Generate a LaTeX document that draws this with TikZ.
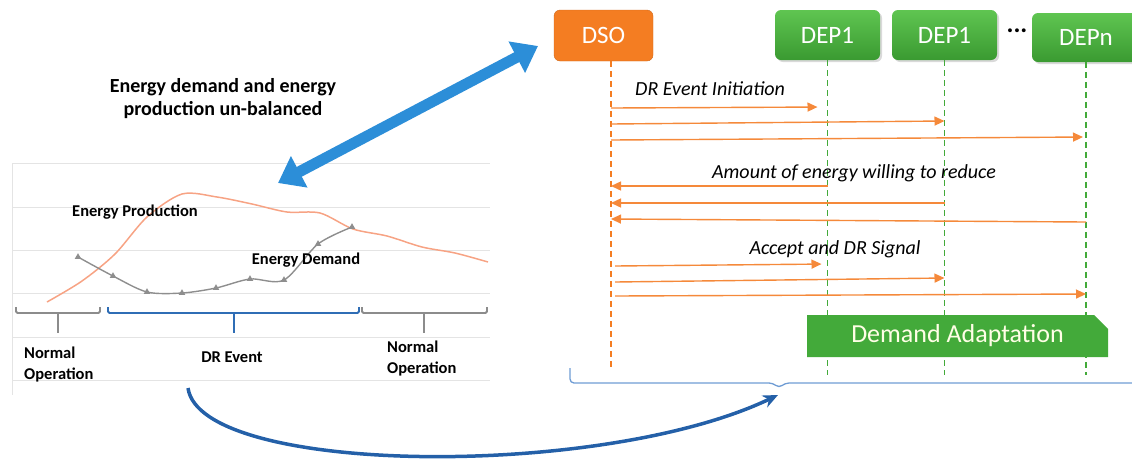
\documentclass[tikz,border=0pt]{standalone}
\usepackage{fontspec}
\setmainfont{Carlito}
\usetikzlibrary{arrows.meta,shapes.misc,plotmarks,calc,shadows}

\definecolor{dsoorange}{HTML}{F47D22}
\definecolor{deptop}{HTML}{5FC551}
\definecolor{depbottom}{HTML}{3A9A31}
\definecolor{adaptgreen}{HTML}{43AA3A}
\definecolor{msgorange}{HTML}{F5893A}
\definecolor{prodsalmon}{HTML}{F7A384}
\definecolor{demgray}{HTML}{8E8E8E}
\definecolor{gridgray}{HTML}{E4E4E4}
\definecolor{bigblue}{HTML}{2C8ED8}
\definecolor{curveblue}{HTML}{2460A8}
\definecolor{bracketblue}{HTML}{2F6DB5}
\definecolor{bracegray}{HTML}{8C8C8C}
\definecolor{braceblue}{HTML}{6F9CD4}

\tikzset{
	actor/.style={rounded corners=6pt, inner sep=0pt, text=white,
		font=\fontsize{25}{28}\selectfont},
	depbox/.style={actor, top color=deptop, bottom color=depbottom,
		drop shadow={opacity=0.3, shadow xshift=2pt, shadow yshift=-2pt}},
	msg/.style={draw=msgorange, line width=1.4pt, -{Triangle[length=10pt,width=9pt]}},
	lifeline/.style={dash pattern=on 6pt off 4pt, line width=1.1pt},
	msglabel/.style={font=\fontsize{20}{22}\selectfont\itshape, inner sep=0pt},
	chartlabel/.style={font=\fontsize{16.5}{21}\selectfont\bfseries, inner sep=0pt},
	bracket/.style={line width=1.8pt, rounded corners=1.5pt},
}

\begin{document}
\begin{tikzpicture}[x=1pt,y=-1pt]

\useasboundingbox (0,0) rectangle (1132,459);
\clip (0,0) rectangle (1132,459);

% Chart grid
\foreach \gy in {163,207,250,293,337,380}
{
	\draw[gridgray, line width=1pt] (12,\gy) -- (490,\gy);
}
\draw[gridgray, line width=1pt] (12,163) -- (12,395);

% Energy production curve
\draw[prodsalmon, line width=1.5pt] plot[smooth, tension=0.5] coordinates
	{(47,302) (82,281) (115,254) (147,217) (182,194) (217,197) (252,204)
	 (287,212) (320,213) (353,229) (387,236) (422,247) (455,253) (488,262)};

% Energy demand curve
\draw[demgray, line width=1.4pt] plot[smooth, tension=0.5, mark=triangle*,
	mark size=2.4pt, mark options={fill=demgray}] coordinates
	{(78,257) (113,276) (147,292) (182,293) (216,288) (250,279) (284,280)
	 (318,244) (352,227)};

\node[chartlabel] (prodLbl) at (135,212) {Energy Production};
\node[chartlabel] (demLbl) at (306,260) {Energy Demand};

% Period brackets
\draw[bracket, bracegray] (16,307) -- (16,313) -- (100,313) -- (100,307);
\draw[bracket, bracegray] (58,313) -- (58,333);
\draw[bracket, bracketblue] (108,307) -- (108,313) -- (359,313) -- (359,307);
\draw[bracket, bracketblue] (234,313) -- (234,333);
\draw[bracket, bracegray] (362,307) -- (362,313) -- (487,313) -- (487,307);
\draw[bracket, bracegray] (424,313) -- (424,333);

\node[chartlabel, align=left, anchor=west] (normLeft) at (24,364) {Normal\\Operation};
\node[chartlabel] (drLbl) at (232,357) {DR Event};
\node[chartlabel, align=left, anchor=west] (normRight) at (387,358) {Normal\\Operation};

% Imbalance note
\node[font=\fontsize{20}{23}\selectfont\bfseries, align=center] (title) at (223,99)
	{Energy demand and energy\\production un-balanced};

% Actors
\node[actor, fill=dsoorange, draw=dsoorange!85!black, minimum width=99pt,
	minimum height=51pt] (dso) at (603.5,35.5) {DSO};
\node[depbox, minimum width=105pt, minimum height=50pt] (depA) at (827.5,35) {DEP1};
\node[depbox, minimum width=105pt, minimum height=50pt] (depB) at (944.5,35) {DEP1};
\node[depbox, minimum width=108pt, minimum height=49pt] (depN) at (1086,37.5) {DEPn};
\node[font=\fontsize{26}{28}\selectfont\bfseries] (dots) at (1017,31) {...};

% Link between chart and DSO
\coordinate (chartLink) at (278,183);
\coordinate (dsoLink) at (538,46);
\draw[bigblue, line width=11pt, {Triangle[length=24pt,width=34pt]}-{Triangle[length=24pt,width=34pt]}]
	(chartLink) -- (dsoLink);

% Demand adaptation phase
\node[chamfered rectangle, chamfered rectangle corners=north east,
	chamfered rectangle sep=7pt, fill=adaptgreen, inner sep=0pt,
	minimum width=301pt, minimum height=42pt, text=white!90!yellow,
	font=\fontsize{26}{28}\selectfont] (adapt) at (957.5,336) {Demand Adaptation};

% Lifelines
\coordinate (dsoLine) at (611,0);
\coordinate (seqBottom) at (0,375);
\draw[lifeline, draw=dsoorange] (dso.south -| dsoLine) -- ($(dsoLine)+(0,371)$);
\foreach \n in {depA,depB,depN}
{
	\draw[lifeline, draw=adaptgreen] (\n.south) -- (\n.south |- seqBottom);
}

% Messages
\node[msglabel, anchor=west] (initLbl) at (635,89) {DR Event Initiation};
\foreach \ys/\tgt/\ye/\sh in {108/depA/107/10, 124/depB/121/0, 140/depN/137/3}
{
	\draw[msg, shorten >=\sh pt] ($(dsoLine)+(0,\ys)$) -- ($(\tgt.south |- dsoLine)+(0,\ye)$);
}

\node[msglabel] (amountLbl) at (854,173) {Amount of energy willing to reduce};
\foreach \ys/\tgt/\ye in {186/depA/186, 203/depB/203, 222/depN/219}
{
	\draw[msg] ($(\tgt.south |- dsoLine)+(0,\ys)$) -- ($(dsoLine)+(0,\ye)$);
}

\node[msglabel] (acceptLbl) at (835,249) {Accept and DR Signal};
\foreach \ys/\tgt/\ye/\sh in {266/depA/264/6, 282/depB/278/0, 296/depN/294/0}
{
	\draw[msg, shorten >=\sh pt] ($(dsoLine)+(4,\ys)$) -- ($(\tgt.south |- dsoLine)+(0,\ye)$);
}

% Sequence brace
\coordinate (braceLeft) at (570,368);
\draw[braceblue, line width=1.3pt, rounded corners=4pt] (braceLeft) |- (773,383)
	-- (779,388) -- (785,383) -- (1140,383);

% DR event mapped to sequence
\coordinate (drStart) at (188,388);
\coordinate (braceTip) at (778,395);
\draw[curveblue, line width=3.5pt, -{Stealth[length=15pt,width=13pt]}]
	(drStart) .. controls (200,475) and (600,480) .. (braceTip);

\end{tikzpicture}
\end{document}
